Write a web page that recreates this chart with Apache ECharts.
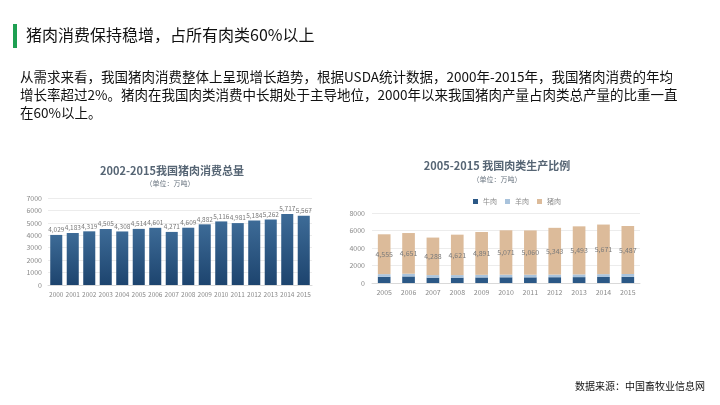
<!DOCTYPE html>
<html><head><meta charset="utf-8">
<style>html,body{margin:0;padding:0;background:#fff}#c{width:720px;height:405px}</style>
<script src="https://cdn.jsdelivr.net/npm/echarts@6/dist/echarts.min.js"></script>
</head><body><div id="c"></div>
<script>
var years1 = ['2000','2001','2002','2003','2004','2005','2006','2007','2008','2009','2010','2011','2012','2013','2014','2015'];
var porkConsumption = [4029,4183,4319,4505,4308,4514,4601,4271,4609,4882,5116,4981,5184,5262,5717,5567];
var years2 = ['2005','2006','2007','2008','2009','2010','2011','2012','2013','2014','2015'];
var beef = [711,750,613,613,636,653,648,662,673,689,700];
var mutton = [300,310,290,290,300,300,300,300,310,320,330];
var pork = [4555,4651,4288,4621,4891,5071,5060,5343,5493,5671,5487];
var seriesNames = ['牛肉','羊肉','猪肉'];

var FONT = '"Noto Sans CJK SC","Noto Sans",sans-serif';
function fmt(v){ return String(v).replace(/\B(?=(\d{3})+(?!\d))/g, ','); }
var chart = echarts.init(document.getElementById('c'), null, {renderer:'canvas'});
function lbl(extra){ return Object.assign({color:'#8a8a8a', fontSize:7, fontFamily:FONT}, extra); }
chart.setOption({
  backgroundColor:'#fff',
  animation:false,
  textStyle:{fontFamily:FONT},
  graphic:[
    {type:'rect', shape:{x:13,y:24,width:4,height:24}, style:{fill:'#1ea052'}},
    {type:'text', left:26, top:27, style:{text:'猪肉消费保持稳增，占所有肉类60%以上', fontSize:16, fill:'#111', fontFamily:FONT}},
    {type:'text', left:20, top:68, style:{text:'从需求来看，我国猪肉消费整体上呈现增长趋势，根据USDA统计数据，2000年-2015年，我国猪肉消费的年均\n增长率超过2%。猪肉在我国肉类消费中长期处于主导地位，2000年以来我国猪肉产量占肉类总产量的比重一直\n在60%以上。', fontSize:13.5, lineHeight:18, fill:'#111', fontFamily:FONT}},
    {type:'text', left:575, top:381, style:{text:'数据来源：中国畜牧业信息网', fontSize:10, fill:'#111', fontFamily:FONT}},
    {type:'text', x:172, y:171, style:{text:'2002-2015我国猪肉消费总量', fontSize:11, fontWeight:'bold', fill:'#566574', align:'center', verticalAlign:'middle', fontFamily:FONT}},
    {type:'text', x:170, y:183, style:{text:'（单位：万吨）', fontSize:7, fill:'#6a7580', align:'center', verticalAlign:'middle', fontFamily:FONT}},
    {type:'text', x:497, y:166, style:{text:'2005-2015 我国肉类生产比例', fontSize:11, fontWeight:'bold', fill:'#566574', align:'center', verticalAlign:'middle', fontFamily:FONT}},
    {type:'text', x:497, y:179, style:{text:'（单位：万吨）', fontSize:7, fill:'#6a7580', align:'center', verticalAlign:'middle', fontFamily:FONT}}
  ],
  legend:{data:seriesNames, top:193, left:468, itemWidth:5, itemHeight:5, itemGap:8, icon:'rect', textStyle:{fontSize:7, color:'#8a8a8a'}},
  grid:[
    {left:48, top:198, width:264, height:87},
    {left:372, top:213, width:268, height:70}
  ],
  xAxis:[
    {type:'category', gridIndex:0, data:years1, axisLine:{lineStyle:{color:'#d9d9d9'}}, axisTick:{show:false}, axisLabel:lbl({margin:6, interval:0, fontSize:6.5})},
    {type:'category', gridIndex:1, data:years2, axisLine:{lineStyle:{color:'#d9d9d9'}}, axisTick:{show:false}, axisLabel:lbl({margin:6, interval:0})}
  ],
  yAxis:[
    {type:'value', gridIndex:0, min:0, max:7000, interval:1000, axisLine:{show:false}, axisTick:{show:false}, splitLine:{lineStyle:{color:'#ececec'}}, axisLabel:lbl({margin:6, formatter:function(v){return String(v);}})},
    {type:'value', gridIndex:1, min:0, max:8000, interval:2000, axisLine:{show:false}, axisTick:{show:false}, splitLine:{lineStyle:{color:'#ececec'}}, axisLabel:lbl({margin:7, formatter:function(v){return String(v);}})}
  ],
  series:[
    {type:'bar', xAxisIndex:0, yAxisIndex:0, data:porkConsumption, barCategoryGap:'27%',
      itemStyle:{color:new echarts.graphic.LinearGradient(0,0,0,1,[{offset:0,color:'#3d6b97'},{offset:1,color:'#1d446e'}])},
      label:{show:true, position:'top', distance:2, fontSize:6.5, color:'#7a7a7a', formatter:function(p){return fmt(p.value);}}},
    {name:seriesNames[0], type:'bar', stack:'m', xAxisIndex:1, yAxisIndex:1, data:beef, barCategoryGap:'48%', itemStyle:{color:'#2b5886'}},
    {name:seriesNames[1], type:'bar', stack:'m', xAxisIndex:1, yAxisIndex:1, data:mutton, itemStyle:{color:'#a9c3dc'}},
    {name:seriesNames[2], type:'bar', stack:'m', xAxisIndex:1, yAxisIndex:1, data:pork, itemStyle:{color:'#dcbb9a'},
      label:{show:true, position:'inside', fontSize:7, color:'#7a7a7a', formatter:function(p){return fmt(p.value);}}}
  ]
});
</script></body></html>
